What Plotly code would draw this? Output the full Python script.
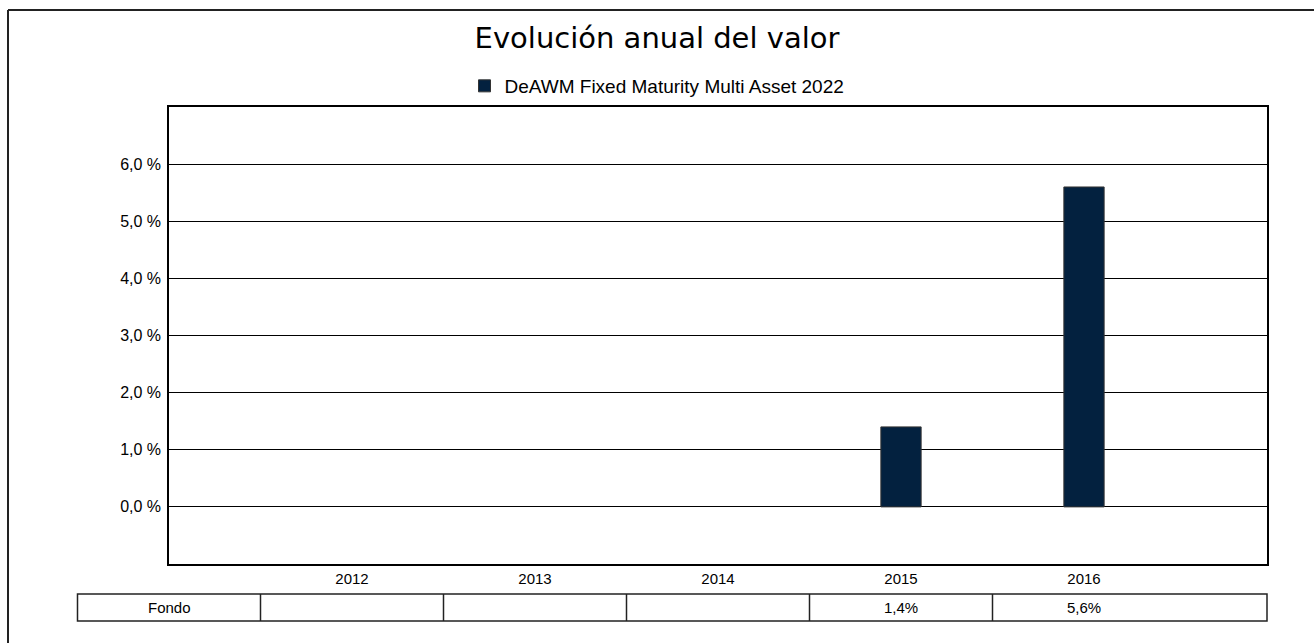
import plotly.graph_objects as go

years = ["2012", "2013", "2014", "2015", "2016"]
fondo = [None, None, None, 1.4, 5.6]
series_name = "DeAWM Fixed Maturity Multi Asset 2022"
title_text = "Evolución anual del valor"
row_label = "Fondo"
ytick_vals = [0, 1, 2, 3, 4, 5, 6]
ytick_text = ["0,0 %", "1,0 %", "2,0 %", "3,0 %", "4,0 %", "5,0 %", "6,0 %"]

W, H = 1314, 643
ML, MR, MT, MB = 169, 47, 107, 79
X0, X1 = -1, 5  # category index range
pw = W - ML - MR
ph = H - MT - MB


def xp(v):
    return (v - X0) / (X1 - X0)


def px_x(p):
    return (p - ML) / pw


def px_y(p):
    return (H - MB - p) / ph


fig = go.Figure()
fig.add_trace(go.Bar(
    x=years, y=fondo, name=series_name, width=0.22,
    marker=dict(color="#03213f", line=dict(color="#333333", width=1)),
    showlegend=True,
))

font_main = "Liberation Sans, Arial, sans-serif"
line_col = "#222222"

shapes = []
t_top, t_bot = px_y(594), px_y(621)
shapes.append(dict(type="rect", xref="paper", yref="paper",
                   x0=xp(-1.5), x1=1.0, y0=t_bot, y1=t_top,
                   line=dict(color=line_col, width=1.5)))
for i in range(len(years)):
    b = i - 0.5
    shapes.append(dict(type="line", xref="paper", yref="paper",
                       x0=xp(b), x1=xp(b), y0=t_bot, y1=t_top,
                       line=dict(color=line_col, width=1.5)))
shapes.append(dict(type="line", xref="paper", yref="paper",
                   x0=px_x(8), x1=px_x(W), y0=px_y(10), y1=px_y(10),
                   line=dict(color=line_col, width=2)))
shapes.append(dict(type="line", xref="paper", yref="paper",
                   x0=px_x(8), x1=px_x(8), y0=px_y(10), y1=px_y(H),
                   line=dict(color=line_col, width=2)))

annotations = []
t_mid = (t_top + t_bot) / 2
annotations.append(dict(x=xp(-1), y=t_mid, xref="paper", yref="paper",
                        xanchor="center", yanchor="middle",
                        text=row_label, showarrow=False,
                        font=dict(family=font_main, size=15, color="black")))
for i, v in enumerate(fondo):
    if v is not None:
        annotations.append(dict(x=xp(i), y=t_mid, xref="paper", yref="paper",
                                xanchor="center", yanchor="middle",
                                text=f"{v:.1f}%".replace(".", ","), showarrow=False,
                                font=dict(family=font_main, size=15, color="black")))

fig.update_layout(
    width=W, height=H,
    margin=dict(l=ML, r=MR, t=MT, b=MB, autoexpand=False),
    paper_bgcolor="white", plot_bgcolor="white",
    title=dict(text=title_text, x=0.5, xref="container", xanchor="center",
               y=1 - 38 / H, yref="container", yanchor="middle",
               font=dict(family="DejaVu Sans, Verdana, sans-serif", size=29, color="black")),
    legend=dict(orientation="h", x=0.5, xref="container", xanchor="center",
                y=1 - 86 / H, yref="container", yanchor="middle",
                font=dict(family=font_main, size=19, color="black"),
                itemwidth=30, bgcolor="rgba(0,0,0,0)"),
    xaxis=dict(type="category", range=[X0, X1], showgrid=False,
               showline=True, linecolor="black", linewidth=2, mirror=True,
               ticks="", tickfont=dict(family=font_main, size=15, color="black"),
               zeroline=False, fixedrange=True),
    yaxis=dict(range=[-1, 7], tickvals=ytick_vals, ticktext=ytick_text,
               showgrid=True, gridcolor="black", gridwidth=1,
               showline=True, linecolor="black", linewidth=1.5, mirror=True,
               ticks="", ticklabelstandoff=3,
               tickfont=dict(family=font_main, size=16, color="black"),
               zeroline=False, fixedrange=True),
    shapes=shapes,
    annotations=annotations,
    bargap=0.5,
)

fig.write_html(
    "out.html",
    config={"displayModeBar": False},
    post_script="document.body.style.margin='0';document.body.style.overflow='hidden';",
)
